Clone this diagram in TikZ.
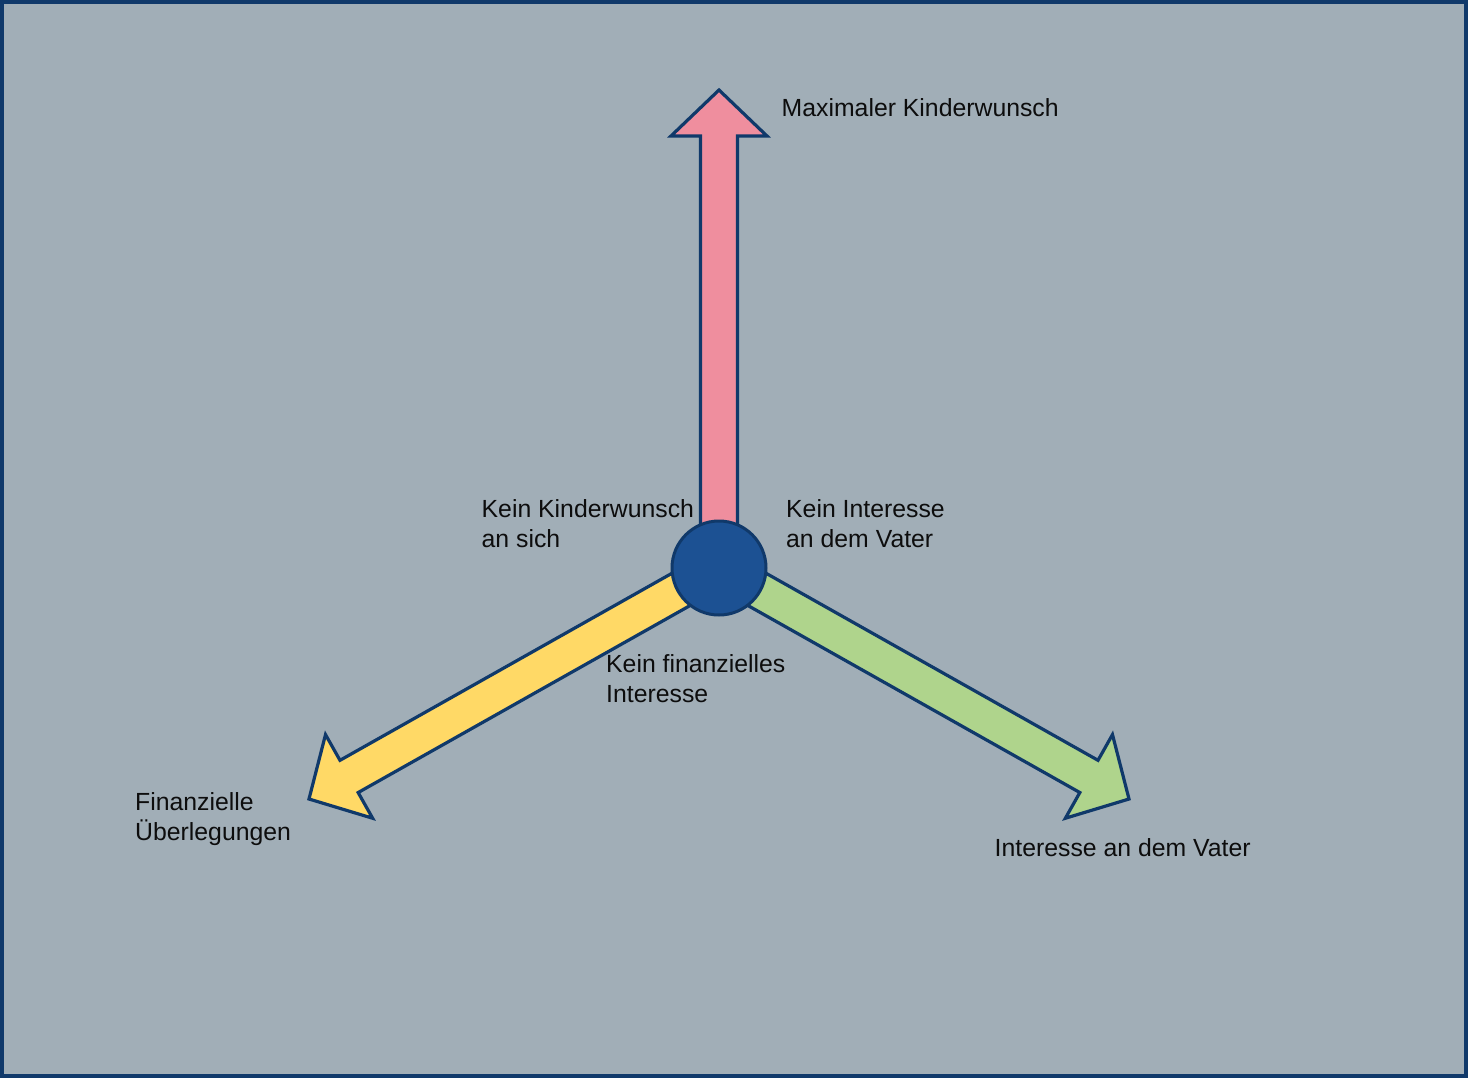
\documentclass[tikz,border=0pt]{standalone}
\usepackage{fontspec}
\setmainfont{Liberation Sans}
\usepackage{xcolor}
\usepackage{tikz}
\usetikzlibrary{calc}
\definecolor{panelgrey}{HTML}{A1AEB7}
\definecolor{navyline}{HTML}{10396A}
\definecolor{hubblue}{HTML}{1C5193}
\definecolor{wishpink}{HTML}{EF8E9E}
\definecolor{moneyyellow}{HTML}{FFD966}
\definecolor{fathergreen}{HTML}{AFD48C}

\begin{document}
\begin{tikzpicture}[
        x=1pt, y=-1pt,
        lbl/.style={
            anchor=base west,
            align=left,
            inner sep=0pt,
            text=black!95,
            font=\fontsize{24.8}{30}\selectfont
        },
        hubdot/.style={
            circle,
            draw=navyline,
            line width=3pt,
            fill=hubblue,
            minimum size=94pt,
            inner sep=0pt
        },
        blockarrow/.style={
            draw=navyline,
            line width=3.2pt,
            line join=miter
        }
    ]
        \useasboundingbox (0,0) rectangle (1468,1079);
        \draw[fill=panelgrey, draw=navyline, line width=3.5pt] (1.75,1.75) rectangle (1466,1076);

        \coordinate (hub) at (719,568);
        \coordinate (tipup) at (719,90);
        \coordinate (tipleft) at (309,799);
        \coordinate (tipright) at (1129,799);

        % block arrows from the hub
        \foreach \tip/\col in {tipup/wishpink, tipleft/moneyyellow, tipright/fathergreen}{
            \coordinate (h) at ($(\tip)!46pt!(hub)$);
            \draw[blockarrow, fill=\col]
                ($(hub)!18.5pt!90:(\tip)$) -- ($(h)!18.5pt!-90:(hub)$) -- ($(h)!48pt!-90:(hub)$)
                -- (\tip)
                -- ($(h)!48pt!90:(hub)$) -- ($(h)!18.5pt!90:(hub)$) -- ($(hub)!18.5pt!-90:(\tip)$) -- cycle;
        }

        \node[hubdot] (centre) at (hub) {};

        % base west = baseline of the last line
        \node[lbl] (lblmax) at (781.5,116.5) {Maximaler Kinderwunsch};
        \node[lbl] (lblnowish) at (481.5,547.5) {Kein Kinderwunsch\\an sich};
        \node[lbl] (lblnofather) at (786,547.5) {Kein Interesse\\an dem Vater};
        \node[lbl] (lblnomoney) at (606,702.5) {Kein finanzielles\\Interesse};
        \node[lbl] (lblmoney) at (135,840.5) {Finanzielle\\Überlegungen};
        \node[lbl] (lblfather) at (994.5,856.5) {Interesse an dem Vater};
    \end{tikzpicture}
\end{document}
